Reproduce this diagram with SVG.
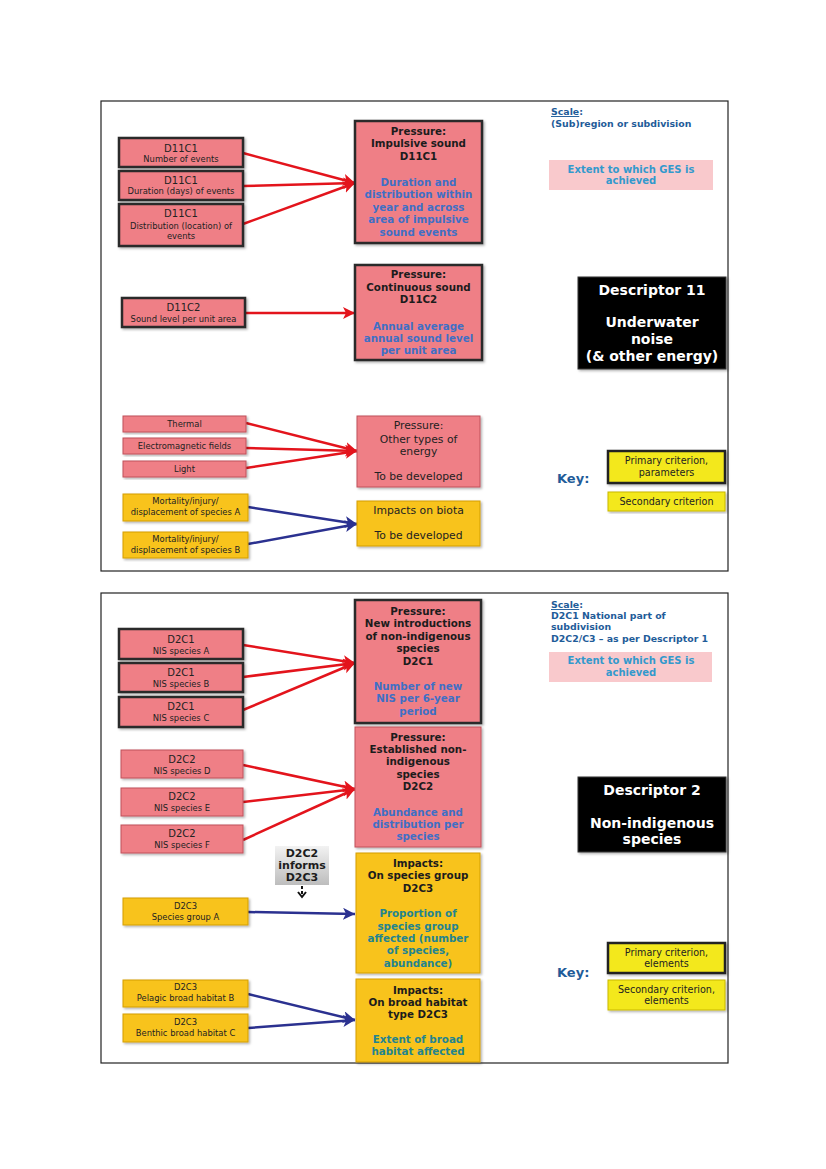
<svg xmlns="http://www.w3.org/2000/svg" width="826" height="1169" viewBox="0 0 826 1169">
<defs>
<marker id="ar" markerUnits="userSpaceOnUse" markerWidth="14" markerHeight="14" refX="12" refY="6" orient="auto"><path d="M0,0 L12,6 L0,12 L3,6 Z" fill="#e3141c"/></marker>
<marker id="ab" markerUnits="userSpaceOnUse" markerWidth="14" markerHeight="14" refX="12" refY="6" orient="auto"><path d="M0,0 L12,6 L0,12 L3,6 Z" fill="#2b3190"/></marker>
<linearGradient id="gray" x1="0" y1="0" x2="0" y2="1"><stop offset="0" stop-color="#f2f2f2"/><stop offset="1" stop-color="#bdbdbd"/></linearGradient>
<filter id="sh" x="-5%" y="-5%" width="115%" height="120%"><feDropShadow dx="1.5" dy="1.5" stdDeviation="1" flood-color="#000" flood-opacity="0.3"/></filter>
</defs>
<style>
text{font-family:"DejaVu Sans",Verdana,"Liberation Sans",sans-serif;text-anchor:middle;fill:#222}
.frame{fill:#fff;stroke:#222;stroke-width:1.2}
.pk{fill:#ef7f86;stroke:#c0505a;stroke-width:1;filter:url(#sh)}
.pkt{fill:#ef7f86;stroke:#2a2a2a;stroke-width:2.5;filter:url(#sh)}
.yl{fill:#f8c31c;stroke:#d39e00;stroke-width:1;filter:url(#sh)}
.ky{fill:#f3e81a;stroke:#c9b800;stroke-width:1;filter:url(#sh)}
.kyt{fill:#f3e81a;stroke:#222;stroke-width:2.5;filter:url(#sh)}
.ext{fill:#f9c9cc}
.blk{fill:#050505;stroke:#333;stroke-width:1;filter:url(#sh)}
.lab{font-size:10px}
.sm{font-size:8.4px}
.b{font-weight:bold;font-size:10.3px;fill:#1c1c1c}
.bb{font-weight:bold;font-size:10.3px;fill:#3f6fc5}
.bt{font-weight:bold;font-size:10.3px;fill:#23848f}
.rg{font-size:10.8px;fill:#222}
.sc{font-weight:bold;font-size:9.4px;fill:#1f5c99;text-anchor:start}
.ge{font-weight:bold;font-size:10px;fill:#3399cc}
.dw{font-weight:bold;font-size:14px;fill:#fff}
.key{font-weight:bold;font-size:13px;fill:#1f5c99;text-anchor:start}
.kt{font-size:9.6px;fill:#222}
.red{stroke:#e3141c;stroke-width:2.5;fill:none;marker-end:url(#ar)}
.blu{stroke:#2b3190;stroke-width:2.5;fill:none;marker-end:url(#ab)}
</style>

<rect class="frame" x="101" y="101" width="627" height="470"/>
<rect class="frame" x="101" y="593" width="627" height="470"/>

<g id="connectors">
<line class="red" x1="243" y1="153" x2="355" y2="183"/>
<line class="red" x1="243" y1="186" x2="355" y2="183"/>
<line class="red" x1="243" y1="224" x2="355" y2="183"/>
<line class="red" x1="245" y1="313" x2="355" y2="313"/>
<line class="red" x1="246" y1="423" x2="357" y2="451"/>
<line class="red" x1="246" y1="448" x2="357" y2="451"/>
<line class="red" x1="246" y1="468" x2="357" y2="451"/>
<line class="blu" x1="248" y1="507" x2="357" y2="524"/>
<line class="blu" x1="248" y1="544" x2="357" y2="524"/>
<line class="red" x1="243" y1="645" x2="355" y2="663"/>
<line class="red" x1="243" y1="677" x2="355" y2="663"/>
<line class="red" x1="243" y1="710" x2="355" y2="663"/>
<line class="red" x1="243" y1="765" x2="355" y2="789"/>
<line class="red" x1="243" y1="802" x2="355" y2="789"/>
<line class="red" x1="243" y1="840" x2="355" y2="789"/>
<line class="blu" x1="248" y1="912" x2="355" y2="914"/>
<line class="blu" x1="248" y1="994" x2="355" y2="1020"/>
<line class="blu" x1="248" y1="1028" x2="355" y2="1020"/>
<path d="M302,886 L302,889 M302,891 L302,894 M298,892 L302,897 L306,892" stroke="#111" stroke-width="2" fill="none"/>
</g>

<!-- Top panel: Descriptor 11 -->
<g id="d11c1-number"><rect class="pkt" x="119" y="138" width="124" height="29"/><text class="lab" x="181" y="152">D11C1</text><text class="sm" x="181" y="162">Number  of events</text></g>
<g id="d11c1-duration"><rect class="pkt" x="119" y="171" width="124" height="29"/><text class="lab" x="181" y="184">D11C1</text><text class="sm" x="181" y="194">Duration  (days) of events</text></g>
<g id="d11c1-distribution"><rect class="pkt" x="119" y="204" width="124" height="42"/><text class="lab" x="181" y="217">D11C1</text><text class="sm" x="181" y="229">Distribution  (location) of</text><text class="sm" x="181" y="239">events</text></g>
<g id="pressure-impulsive"><rect class="pkt" x="355" y="121" width="127" height="122"/>
<text class="b" x="418.5" y="135">Pressure:</text><text class="b" x="418.5" y="147">Impulsive  sound</text><text class="b" x="418.5" y="160">D11C1</text>
<text class="bb" x="418.5" y="186">Duration  and</text><text class="bb" x="418.5" y="198">distribution  within</text><text class="bb" x="418.5" y="211">year and across</text><text class="bb" x="418.5" y="223">area of impulsive</text><text class="bb" x="418.5" y="236">sound events</text></g>
<g id="d11c2"><rect class="pkt" x="122" y="298" width="123" height="29"/><text class="lab" x="183.5" y="311">D11C2</text><text class="sm" x="183.5" y="322">Sound level per unit area</text></g>
<g id="pressure-continuous"><rect class="pkt" x="355" y="265" width="127" height="95"/>
<text class="b" x="418.5" y="278">Pressure:</text><text class="b" x="418.5" y="291">Continuous  sound</text><text class="b" x="418.5" y="303">D11C2</text>
<text class="bb" x="418.5" y="330">Annual average</text><text class="bb" x="418.5" y="342">annual sound level</text><text class="bb" x="418.5" y="354">per unit  area</text></g>
<g id="thermal"><rect class="pk" x="123" y="416" width="123" height="16"/><text class="sm" x="184.5" y="427">Thermal</text></g>
<g id="electromagnetic"><rect class="pk" x="123" y="438" width="123" height="16"/><text class="sm" x="184.5" y="449">Electromagnetic  fields</text></g>
<g id="light"><rect class="pk" x="123" y="461" width="123" height="16"/><text class="sm" x="184.5" y="472">Light</text></g>
<g id="pressure-other"><rect class="pk" x="357" y="416" width="123" height="71"/>
<text class="rg" x="418.5" y="429">Pressure:</text><text class="rg" x="418.5" y="443">Other types of</text><text class="rg" x="418.5" y="455">energy</text><text class="rg" x="418.5" y="480">To be developed</text></g>
<g id="mortality-a"><rect class="yl" x="123" y="494" width="125" height="27"/><text class="sm" x="185.5" y="504">Mortality/injury/</text><text class="sm" x="185.5" y="515">displacement  of species A</text></g>
<g id="mortality-b"><rect class="yl" x="123" y="532" width="125" height="26"/><text class="sm" x="185.5" y="542">Mortality/injury/</text><text class="sm" x="185.5" y="553">displacement  of species B</text></g>
<g id="impacts-biota"><rect class="yl" x="357" y="501" width="123" height="45"/>
<text class="rg" x="418.5" y="514">Impacts on biota</text><text class="rg" x="418.5" y="539">To be developed</text></g>
<g id="scale-d11"><text class="sc" x="551" y="115"><tspan text-decoration="underline">Scale</tspan>:</text><text class="sc" x="551" y="127">(Sub)region  or subdivision</text></g>
<g id="ges-d11"><rect class="ext" x="549" y="160" width="164" height="30"/><text class="ge" x="631" y="173">Extent to which GES is</text><text class="ge" x="631" y="184">achieved</text></g>
<g id="descriptor-11"><rect class="blk" x="578" y="277" width="148" height="92"/>
<text class="dw" x="652" y="295">Descriptor  11</text><text class="dw" x="652" y="327">Underwater</text><text class="dw" x="652" y="344">noise</text><text class="dw" x="652" y="361">(&amp; other energy)</text></g>
<g id="key-d11"><text class="key" x="557" y="483">Key:</text>
<rect class="kyt" x="608" y="451" width="117" height="32"/><text class="kt" x="666.5" y="464">Primary criterion,</text><text class="kt" x="666.5" y="476">parameters</text>
<rect class="ky" x="608" y="492" width="117" height="19"/><text class="kt" x="666.5" y="505">Secondary criterion</text></g>

<!-- Bottom panel: Descriptor 2 -->
<g id="d2c1-a"><rect class="pkt" x="119" y="629" width="124" height="30"/><text class="lab" x="181" y="643">D2C1</text><text class="sm" x="181" y="654">NIS  species A</text></g>
<g id="d2c1-b"><rect class="pkt" x="119" y="663" width="124" height="29"/><text class="lab" x="181" y="676">D2C1</text><text class="sm" x="181" y="687">NIS  species B</text></g>
<g id="d2c1-c"><rect class="pkt" x="119" y="697" width="124" height="30"/><text class="lab" x="181" y="710">D2C1</text><text class="sm" x="181" y="721">NIS  species C</text></g>
<g id="pressure-new"><rect class="pkt" x="355" y="600" width="126" height="123"/>
<text class="b" x="418" y="615">Pressure:</text><text class="b" x="418" y="627">New introductions</text><text class="b" x="418" y="640">of non-indigenous</text><text class="b" x="418" y="652">species</text><text class="b" x="418" y="665">D2C1</text>
<text class="bb" x="418" y="690">Number of new</text><text class="bb" x="418" y="702">NIS per 6-year</text><text class="bb" x="418" y="715">period</text></g>
<g id="d2c2-d"><rect class="pk" x="121" y="750" width="122" height="28"/><text class="lab" x="182" y="763">D2C2</text><text class="sm" x="182" y="774">NIS  species D</text></g>
<g id="d2c2-e"><rect class="pk" x="121" y="788" width="122" height="28"/><text class="lab" x="182" y="800">D2C2</text><text class="sm" x="182" y="811">NIS  species E</text></g>
<g id="d2c2-f"><rect class="pk" x="121" y="825" width="122" height="28"/><text class="lab" x="182" y="837">D2C2</text><text class="sm" x="182" y="848">NIS  species F</text></g>
<g id="pressure-established"><rect class="pk" x="355" y="727" width="126" height="120"/>
<text class="b" x="418" y="741">Pressure:</text><text class="b" x="418" y="753">Established  non-</text><text class="b" x="418" y="765">indigenous</text><text class="b" x="418" y="778">species</text><text class="b" x="418" y="790">D2C2</text>
<text class="bb" x="418" y="816">Abundance  and</text><text class="bb" x="418" y="828">distribution  per</text><text class="bb" x="418" y="840">species</text></g>
<g id="informs"><rect x="275" y="846" width="54" height="39" fill="url(#gray)"/>
<text class="b" x="302" y="857" style="font-size:11px">D2C2</text><text class="b" x="302" y="869" style="font-size:11px">informs</text><text class="b" x="302" y="881" style="font-size:11px">D2C3</text></g>
<g id="d2c3-species-a"><rect class="yl" x="123" y="898" width="125" height="27"/><text class="sm" x="185.5" y="909">D2C3</text><text class="sm" x="185.5" y="920">Species group  A</text></g>
<g id="impacts-species"><rect class="yl" x="356" y="853" width="124" height="120"/>
<text class="b" x="418" y="867">Impacts:</text><text class="b" x="418" y="879">On species  group</text><text class="b" x="418" y="892">D2C3</text>
<text class="bt" x="418" y="917">Proportion  of</text><text class="bt" x="418" y="930">species  group</text><text class="bt" x="418" y="942">affected (number</text><text class="bt" x="418" y="954">of species,</text><text class="bt" x="418" y="967">abundance)</text></g>
<g id="d2c3-pelagic"><rect class="yl" x="123" y="980" width="125" height="27"/><text class="sm" x="185.5" y="990">D2C3</text><text class="sm" x="185.5" y="1001">Pelagic  broad habitat B</text></g>
<g id="d2c3-benthic"><rect class="yl" x="123" y="1014" width="125" height="28"/><text class="sm" x="185.5" y="1025">D2C3</text><text class="sm" x="185.5" y="1036">Benthic  broad habitat C</text></g>
<g id="impacts-habitat"><rect class="yl" x="356" y="979" width="124" height="83"/>
<text class="b" x="418" y="994">Impacts:</text><text class="b" x="418" y="1006">On broad habitat</text><text class="b" x="418" y="1018">type D2C3</text>
<text class="bt" x="418" y="1043">Extent of broad</text><text class="bt" x="418" y="1055">habitat affected</text></g>
<g id="scale-d2"><text class="sc" x="551" y="608"><tspan text-decoration="underline">Scale</tspan>:</text><text class="sc" x="551" y="619">D2C1 National part of</text><text class="sc" x="551" y="630">subdivision</text><text class="sc" x="551" y="642">D2C2/C3 – as per Descriptor  1</text></g>
<g id="ges-d2"><rect class="ext" x="549" y="652" width="163" height="30"/><text class="ge" x="631" y="664">Extent to which GES is</text><text class="ge" x="631" y="676">achieved</text></g>
<g id="descriptor-2"><rect class="blk" x="578" y="777" width="148" height="75"/>
<text class="dw" x="652" y="795">Descriptor  2</text><text class="dw" x="652" y="828">Non-indigenous</text><text class="dw" x="652" y="844">species</text></g>
<g id="key-d2"><text class="key" x="557" y="977">Key:</text>
<rect class="kyt" x="608" y="943" width="117" height="30"/><text class="kt" x="666.5" y="956">Primary criterion,</text><text class="kt" x="666.5" y="967">elements</text>
<rect class="ky" x="608" y="980" width="117" height="30"/><text class="kt" x="666.5" y="993">Secondary criterion,</text><text class="kt" x="666.5" y="1004">elements</text></g>
</svg>
